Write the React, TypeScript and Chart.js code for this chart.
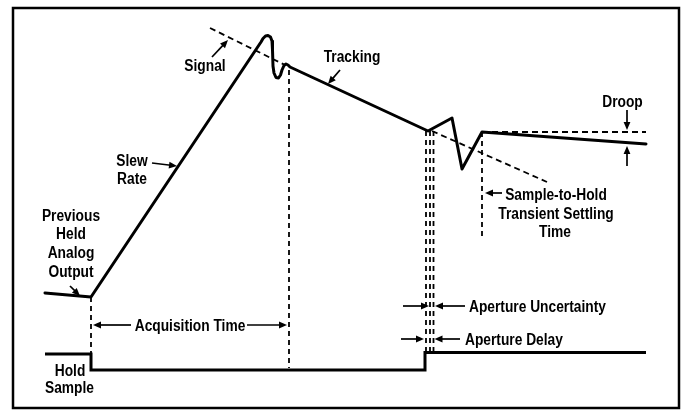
import React, { useEffect, useRef } from "react";
import { Chart, registerables } from "chart.js";

Chart.register(...registerables);

type P = { x: number; y: number };
const pts = (xs: number[], ys: number[]): P[] => xs.map((x, i) => ({ x, y: ys[i] }));

// Analog output of the sample-and-hold (time units on x, level on y, y grows downward)
const outputX = [45, 91, 261, 263, 265.5, 268, 270.5, 272, 272.5, 273, 274, 276, 278.5, 280.5, 282, 284, 286, 288, 290, 428, 452, 462, 482, 646];
const outputY = [293, 297, 42, 38.5, 36, 35.5, 37, 41, 50, 66, 73, 77.5, 78, 75, 70, 65.5, 64, 65, 67, 131, 118, 169, 132, 144];

// Hold / Sample control signal
const controlX = [45, 91, 91, 425, 425, 646];
const controlY = [354, 354, 370, 370, 352.5, 352.5];

// Input signal (dashed)
const signalEarlyX = [210, 285];
const signalEarlyY = [28, 65];
const signalLateX = [432, 547];
const signalLateY = [131, 182];

// Droop reference (dashed)
const droopRefX = [482, 646];
const droopRefY = [132, 132];

// Vertical dashed time markers
const markerX = [91, 289, 426, 430, 433.5, 482];
const markerTop = [297, 70, 131, 131, 131, 132];
const markerBottom = [354, 368, 352, 352, 352, 240];

// Annotation arrows
const arrowFromX = [212, 340, 152, 70, 131, 247, 502, 627, 627, 403, 465, 401, 460];
const arrowFromY = [57, 70, 163, 286, 325, 325, 193, 110, 166, 306, 306, 339, 339];
const arrowToX = [228, 328, 177, 80, 93, 287, 485, 627, 627, 429, 435, 424, 434.5];
const arrowToY = [40, 84, 166, 296, 325, 325, 193, 130, 146, 306, 306, 339, 339];

// Text labels
const labelText = ["Signal", "Tracking", "Slew", "Rate", "Previous", "Held", "Analog", "Output", "Acquisition Time", "Hold", "Sample", "Droop", "Sample-to-Hold", "Transient Settling", "Time", "Aperture Uncertainty", "Aperture Delay"];
const labelX = [205, 352, 132, 132, 71, 71, 71, 71, 190, 70, 69.5, 622.5, 556, 556, 555, 469, 465];
const labelY = [70.5, 62, 165.7, 184, 220.5, 239.3, 257.7, 276.7, 330.7, 375.5, 393, 106.5, 200, 219, 237.3, 312.3, 345];
const labelAlign = ["center", "center", "center", "center", "center", "center", "center", "center", "center", "center", "center", "center", "center", "center", "center", "left", "left"];

// Frame
const frameX = [13, 679];
const frameY = [8, 408];

const FONT = 'bold 16px "Liberation Sans", Arial, sans-serif';
const TEXT_SCALE_X = 0.86;

const annotPlugin = {
  id: "annot",
  afterDatasetsDraw(chart: any) {
    const ctx = chart.ctx as CanvasRenderingContext2D;
    const xs = chart.scales.x;
    const ys = chart.scales.y;
    const px = (v: number) => xs.getPixelForValue(v);
    const py = (v: number) => ys.getPixelForValue(v);
    ctx.save();
    // frame
    ctx.strokeStyle = "#000";
    ctx.lineWidth = 2.5;
    ctx.strokeRect(px(frameX[0]), py(frameY[0]), px(frameX[1]) - px(frameX[0]), py(frameY[1]) - py(frameY[0]));
    // vertical markers
    ctx.setLineDash([5, 4]);
    ctx.lineWidth = 1.8;
    markerX.forEach((m, i) => {
      ctx.beginPath();
      ctx.moveTo(px(m), py(markerTop[i]));
      ctx.lineTo(px(m), py(markerBottom[i]));
      ctx.stroke();
    });
    ctx.setLineDash([]);
    // arrows
    ctx.fillStyle = "#000";
    arrowFromX.forEach((fx, i) => {
      const x0 = px(fx), y0 = py(arrowFromY[i]);
      const x1 = px(arrowToX[i]), y1 = py(arrowToY[i]);
      const ang = Math.atan2(y1 - y0, x1 - x0);
      const L = 8, W = 3.4;
      ctx.lineWidth = 1.7;
      ctx.beginPath();
      ctx.moveTo(x0, y0);
      ctx.lineTo(x1 - Math.cos(ang) * L * 0.8, y1 - Math.sin(ang) * L * 0.8);
      ctx.stroke();
      ctx.beginPath();
      ctx.moveTo(x1, y1);
      ctx.lineTo(x1 - Math.cos(ang) * L - Math.sin(ang) * W, y1 - Math.sin(ang) * L + Math.cos(ang) * W);
      ctx.lineTo(x1 - Math.cos(ang) * L + Math.sin(ang) * W, y1 - Math.sin(ang) * L - Math.cos(ang) * W);
      ctx.closePath();
      ctx.fill();
    });
    // labels (condensed face)
    ctx.font = FONT;
    ctx.textBaseline = "alphabetic";
    labelText.forEach((t, i) => {
      ctx.save();
      ctx.translate(px(labelX[i]), py(labelY[i]));
      ctx.scale(TEXT_SCALE_X, 1);
      ctx.textAlign = labelAlign[i] as CanvasTextAlign;
      ctx.fillText(t, 0, 0);
      ctx.restore();
    });
    ctx.restore();
  },
};

export default function App() {
  const ref = useRef<HTMLCanvasElement | null>(null);
  useEffect(() => {
    if (!ref.current) return;
    const solid = { borderColor: "#000", borderWidth: 3, pointRadius: 0, showLine: true, fill: false, tension: 0, clip: false as any };
    const dashed = { borderColor: "#000", borderWidth: 1.8, pointRadius: 0, showLine: true, fill: false, tension: 0, borderDash: [6, 4], clip: false as any };
    const chart = new Chart(ref.current, {
      type: "scatter",
      data: {
        datasets: [
          { ...dashed, label: "Signal", data: pts(signalEarlyX, signalEarlyY) },
          { ...dashed, label: "Signal (cont.)", data: pts(signalLateX, signalLateY) },
          { ...dashed, label: "Droop reference", data: pts(droopRefX, droopRefY) },
          { ...solid, label: "Output", data: pts(outputX, outputY), borderJoinStyle: "round", borderCapStyle: "round" } as any,
          { ...solid, label: "Hold/Sample", data: pts(controlX, controlY) },
        ],
      },
      options: {
        animation: false,
        responsive: false,
        devicePixelRatio: 1,
        layout: { padding: 0 },
        plugins: { legend: { display: false }, tooltip: { enabled: false } },
        events: [],
        scales: {
          x: { type: "linear", min: 0, max: 683, display: false },
          y: { type: "linear", min: 0, max: 411, reverse: true, display: false },
        },
      },
      plugins: [annotPlugin],
    });
    return () => chart.destroy();
  }, []);
  return (
    <div style={{ position: "fixed", left: 0, top: 0, width: 683, height: 411, background: "#fff" }}>
      <canvas ref={ref} width={683} height={411} style={{ display: "block" }} />
    </div>
  );
}
